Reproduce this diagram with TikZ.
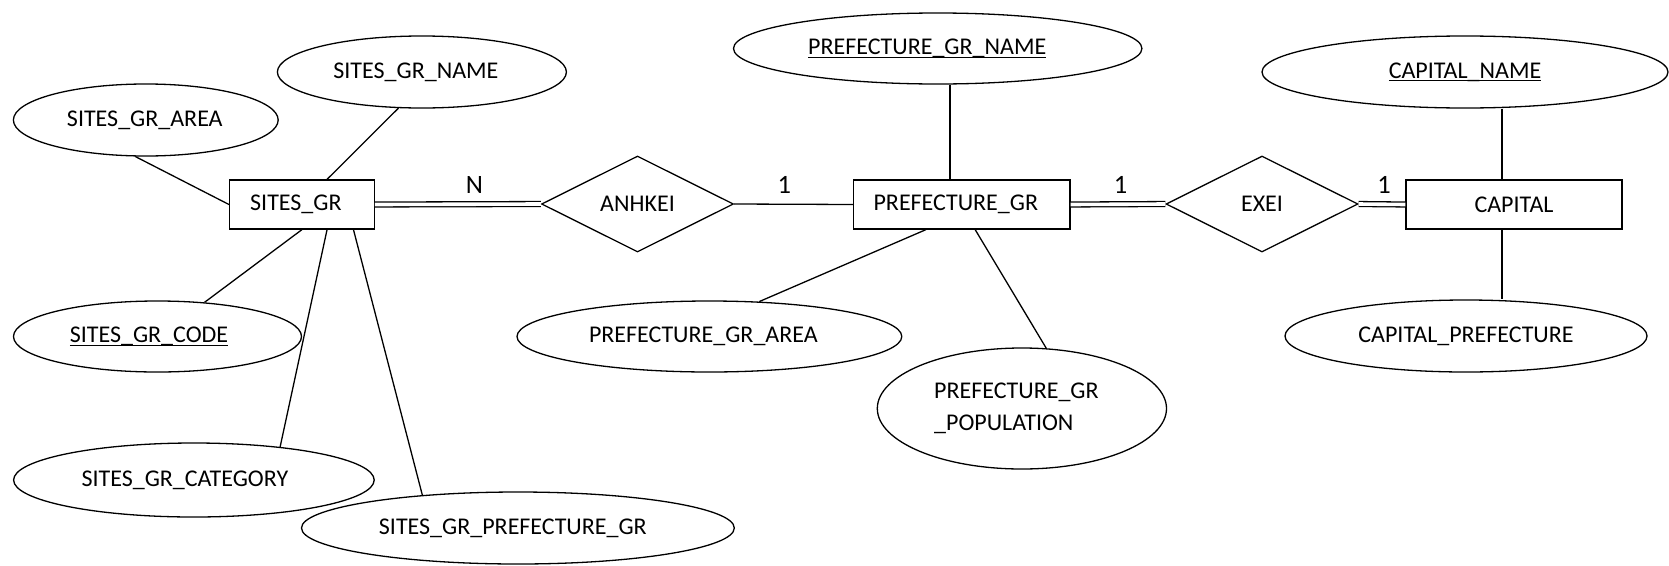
\documentclass[tikz,border=0pt]{standalone}
\usepackage{fontspec}
\setmainfont{Carlito}
\usetikzlibrary{shapes.geometric,calc}

% key attributes: text with a rule just under the baseline
\newcommand\pkey[1]{\setbox0=\hbox{#1}\rlap{\rule[-3.4pt]{\wd0}{1.3pt}}\box0}
% trailing room that moves a label a little to the left of its shape's centre
\newcommand\lpad[1]{\kern#1}

\begin{document}
\begin{tikzpicture}[x=1pt,y=-1pt,line width=1.3pt,
  every node/.style={font=\fontsize{24}{28}\selectfont},
  entity/.style={draw,rectangle,inner sep=0pt,minimum height=49pt},
  attr/.style={draw,ellipse,inner sep=0pt},
  rel/.style={draw,diamond,inner sep=0pt,minimum width=192pt,minimum height=96pt},
  card/.style={anchor=base,inner sep=0pt,font=\fontsize{26.5}{30}\selectfont},
  total/.style={double,double distance=3.6pt}]

\useasboundingbox (0,0) rectangle (1669,565);

% entities and relationships
\node[entity,minimum width=144.6pt] (sites) at (301.9,204.5) {SITES\_GR\lpad{12pt}};
\node[entity,minimum width=216.4pt] (pref)  at (961.8,204.5) {PREFECTURE\_GR\lpad{12pt}};
\node[entity,minimum width=216pt]   (cap)   at (1514,204.5)  {CAPITAL};
\node[rel] (anhkei) at (637.5,204) {ANHKEI};
\node[rel] (exei)   at (1262,204)  {EXEI};

% attributes of SITES_GR
\node[attr,minimum width=264.8pt,minimum height=72pt] (area)     at (145.8,120)   {SITES\_GR\_AREA\lpad{2pt}};
\node[attr,minimum width=289pt,minimum height=72pt]   (name)     at (421.9,72)    {SITES\_GR\_NAME\lpad{12pt}};
\node[attr,minimum width=288pt,minimum height=71pt]   (code)     at (157.5,336.5) {\pkey{SITES\_GR\_CODE}\lpad{17pt}};
\node[attr,minimum width=360.6pt,minimum height=74pt] (category) at (193.9,480)   {SITES\_GR\_CATEGORY\lpad{18pt}};
\node[attr,minimum width=432.8pt,minimum height=72pt] (sitepref) at (517.9,528)   {SITES\_GR\_PREFECTURE\_GR\lpad{10pt}};

% attributes of PREFECTURE_GR
\node[attr,minimum width=408.4pt,minimum height=71pt] (pname) at (937.7,48.5)  {\pkey{PREFECTURE\_GR\_NAME}\lpad{21pt}};
\node[attr,minimum width=384.8pt,minimum height=71pt] (parea) at (709.4,336.5) {PREFECTURE\_GR\_AREA\lpad{12pt}};
\node[attr,minimum width=289.2pt,minimum height=121pt,align=left,
      font=\fontsize{24}{32}\selectfont] (pop) at (1021.9,408.5) {PREFECTURE\_GR\lpad{11pt}\\\_POPULATION};

% attributes of CAPITAL
\node[attr,minimum width=406pt,minimum height=72pt] (cname) at (1465,72)  {\pkey{CAPITAL\_NAME}};
\node[attr,minimum width=362pt,minimum height=72pt] (cpref) at (1466,336) {CAPITAL\_PREFECTURE};

% relationship lines
\draw[total] (sites.east) -- (anhkei.west);
\draw (anhkei.east) -- (pref.west);
\draw[total] (pref.east) -- (exei.west);
\draw[total] (exei.east) -- (cap.west);

% cardinalities
\node[card] (cN) at (474.5,193.5)  {N};
\node[card] (c1) at (784.4,193.5)  {1};
\node[card] (c2) at (1120.5,193.5) {1};
\node[card] (c3) at (1384,193.5)   {1};

% attribute links
\draw (area.-106.7) -- (sites.west);
\draw (name.-123.6) -- (sites.45);
\draw (code.36) -- (sites.south);
\draw (sites.-45) -- (category.21.4);
\draw (sites.-26.9) -- (sitepref.161.6);

\draw ([xshift=-11.8pt]pref.north) -- ([xshift=-11.8pt]pref.north |- pname.south);
\draw (pref.-145.4) -- (parea.35.3);
\draw (pref.-62.4) -- (pop.68.4);

\draw ([xshift=-12pt]cap.north) -- ([xshift=-12pt]cap.north |- cname.south);
\draw ([xshift=-12pt]cap.south) -- ([xshift=-12pt]cap.south |- cpref.north);
\end{tikzpicture}
\end{document}
